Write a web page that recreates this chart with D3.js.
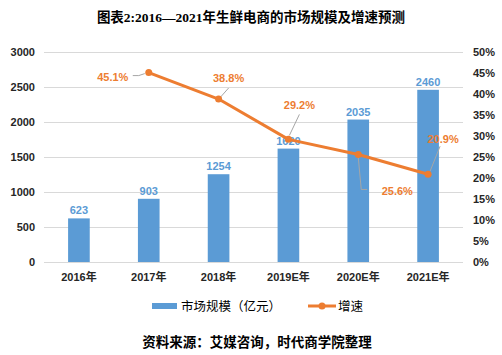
<!DOCTYPE html>
<html><head><meta charset="utf-8">
<script src="https://cdn.jsdelivr.net/npm/d3@7/dist/d3.min.js"></script>
<style>
body{margin:0;background:#fff;}
svg{display:block;}
text{font-family:"Liberation Sans","Noto Sans CJK SC",sans-serif;}
</style></head><body>
<svg id="c" width="502" height="355"></svg>
<script>
const categories = ["2016年","2017年","2018年","2019E年","2020E年","2021E年"];
const marketSize = [623, 903, 1254, 1620, 2035, 2460];
const growth = [null, 45.1, 38.8, 29.2, 25.6, 20.9];
const leftTicks = [0, 500, 1000, 1500, 2000, 2500, 3000];
const rightTicks = [0, 5, 10, 15, 20, 25, 30, 35, 40, 45, 50];
const titleText = "图表2:2016—2021年生鲜电商的市场规模及增速预测";
const legendNames = ["市场规模（亿元）", "增速"];
const sourceText = "资料来源：艾媒咨询，时代商学院整理";

// label placement for growth labels (label center offset and leader path, relative to point)
const growthLabelPlacement = [
  null,
  {dx: -36, dy: 4, leader: [[-4, 1], [-10, 3], [-16, 3]]},
  {dx: 10, dy: -21, leader: [[2, -2], [10, -11]]},
  {dx: 11, dy: -34, leader: [[1, -4], [11, -25]]},
  {dx: 39, dy: 37, leader: [[0, 3], [3, 35], [9, 35]]},
  {dx: 15, dy: -35, leader: [[2, -3], [12, -28]]}
];

const svg = d3.select("#c");
const blue = "#5B9BD5", orange = "#ED7D31", grid = "#D9D9D9", txt = "#262626";
const pLeft = 44, pRight = 463, pTop = 52, pBottom = 262;

const x = d3.scaleBand().domain(categories).range([pLeft, pRight]).paddingInner(0.69).paddingOuter(0.345);
const y = d3.scaleLinear().domain([0, 3000]).range([pBottom, pTop]);
const y2 = d3.scaleLinear().domain([0, 50]).range([pBottom, pTop]);

// title
svg.append("text").attr("x", 251).attr("y", 22).attr("text-anchor", "middle")
  .style("font-family", '"Liberation Serif","Noto Sans CJK SC",serif')
  .style("font-weight", "bold").style("font-size", "13.5px").attr("fill", "#000").text(titleText);

// gridlines
svg.append("g").selectAll("line").data(leftTicks).join("line")
  .attr("x1", pLeft).attr("x2", pRight)
  .attr("y1", d => Math.round(y(d)) + 0.5).attr("y2", d => Math.round(y(d)) + 0.5)
  .attr("stroke", grid).attr("stroke-width", 1);

// left axis
const gl = svg.append("g").attr("transform", `translate(${pLeft - 9},0)`)
  .call(d3.axisLeft(y).tickValues(leftTicks).tickSize(0).tickPadding(0).tickFormat(d3.format("d")));
gl.select(".domain").remove();
gl.selectAll("text").style("font-size", "11px").style("font-weight", "bold").attr("fill", txt)
  .style("font-family", '"Liberation Sans",sans-serif');

// right axis
const gr = svg.append("g").attr("transform", `translate(${pRight + 10},0)`)
  .call(d3.axisRight(y2).tickValues(rightTicks).tickSize(0).tickPadding(0).tickFormat(d => d + "%"));
gr.select(".domain").remove();
gr.selectAll("text").style("font-size", "11px").style("font-weight", "bold").attr("fill", txt)
  .style("font-family", '"Liberation Sans",sans-serif');

// x axis
const gx = svg.append("g").attr("transform", `translate(0,${pBottom + 11})`)
  .call(d3.axisBottom(x).tickSize(0).tickPadding(0));
gx.select(".domain").remove();
gx.selectAll("text").style("font-size", "11px").style("font-weight", "bold").attr("fill", txt);

// bars
svg.append("g").selectAll("rect").data(marketSize).join("rect")
  .attr("x", (d, i) => x(categories[i])).attr("width", x.bandwidth())
  .attr("y", d => y(d)).attr("height", d => pBottom - y(d)).attr("fill", blue);

// bar labels
svg.append("g").selectAll("text").data(marketSize).join("text")
  .attr("x", (d, i) => x(categories[i]) + x.bandwidth() / 2).attr("y", d => y(d) - 4)
  .attr("text-anchor", "middle").style("font-size", "11px").style("font-weight", "bold")
  .attr("fill", blue).text(d => d);

// line
const pts = growth.map((g, i) => g == null ? null : {i, g, px: x(categories[i]) + x.bandwidth() / 2, py: y2(g)}).filter(d => d);
svg.append("path").datum(pts)
  .attr("d", d3.line().x(d => d.px).y(d => d.py))
  .attr("fill", "none").attr("stroke", orange).attr("stroke-width", 3).attr("stroke-linejoin", "round");

// leader lines
svg.append("g").selectAll("path").data(pts).join("path")
  .attr("d", d => {
    const p = growthLabelPlacement[d.i];
    return "M" + p.leader.map(q => [d.px + q[0], d.py + q[1]].join(",")).join("L");
  })
  .attr("fill", "none").attr("stroke", "#A6A6A6").attr("stroke-width", 1);

svg.append("g").selectAll("circle").data(pts).join("circle")
  .attr("cx", d => d.px).attr("cy", d => d.py).attr("r", 3.5).attr("fill", orange);

// growth labels
svg.append("g").selectAll("text").data(pts).join("text")
  .attr("x", d => d.px + growthLabelPlacement[d.i].dx)
  .attr("y", d => d.py + growthLabelPlacement[d.i].dy + 4)
  .attr("text-anchor", "middle").style("font-size", "11px").style("font-weight", "bold")
  .attr("fill", orange).text(d => d.g.toFixed(1) + "%");

// legend
const lg = svg.append("g");
lg.append("rect").attr("x", 152).attr("y", 303).attr("width", 25).attr("height", 6).attr("fill", blue);
lg.append("text").attr("x", 181).attr("y", 311).style("font-size", "12.5px").attr("fill", "#000")
  .style("font-family", '"Noto Sans CJK SC",sans-serif').text(legendNames[0]);
lg.append("line").attr("x1", 308).attr("x2", 336).attr("y1", 306).attr("y2", 306)
  .attr("stroke", orange).attr("stroke-width", 3);
lg.append("circle").attr("cx", 322).attr("cy", 306).attr("r", 3.5).attr("fill", orange);
lg.append("text").attr("x", 338).attr("y", 311).style("font-size", "12.5px").attr("fill", "#000")
  .style("font-family", '"Noto Sans CJK SC",sans-serif').text(legendNames[1]);

// source
svg.append("text").attr("x", 257).attr("y", 347).attr("text-anchor", "middle")
  .style("font-family", '"Noto Sans CJK SC",sans-serif').style("font-weight", "bold")
  .style("font-size", "13.5px").attr("fill", "#000").text(sourceText);
</script>
</body></html>
